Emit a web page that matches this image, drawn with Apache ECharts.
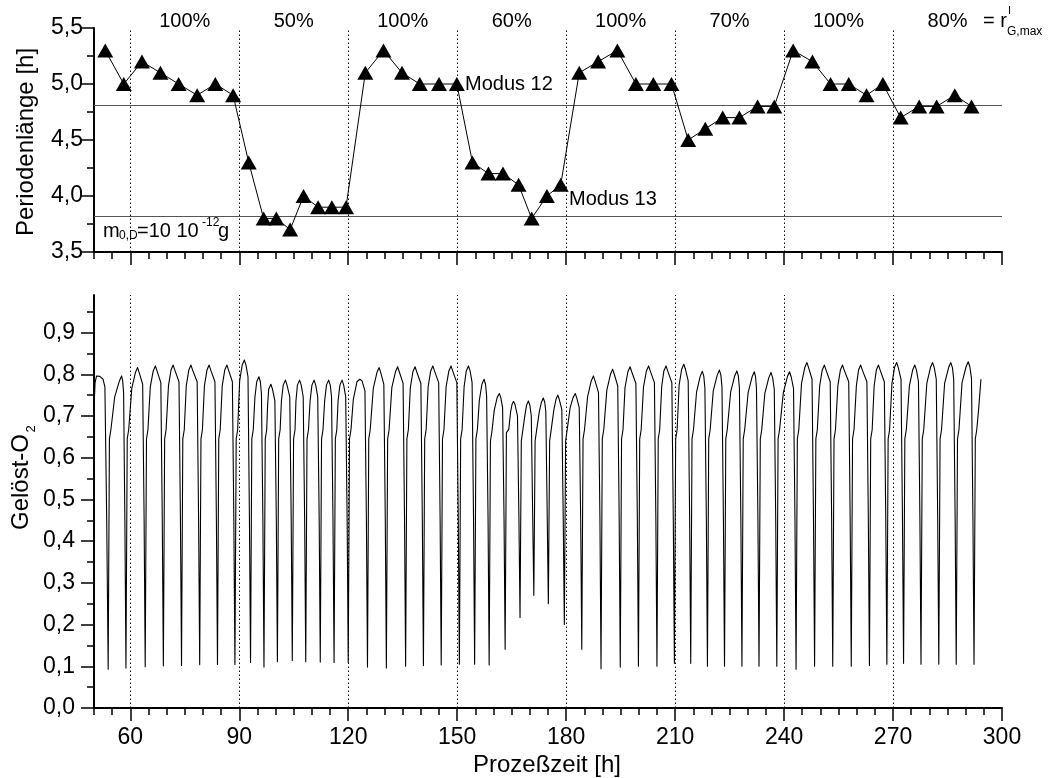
<!DOCTYPE html>
<html><head><meta charset="utf-8">
<script src="https://cdn.jsdelivr.net/npm/echarts@6/dist/echarts.min.js"></script>
<style>html,body{margin:0;padding:0;background:#fff}#c{width:1049px;height:778px}</style>
</head><body><div id="c"></div>
<script>
// ---- data ----
const periodTime = [53.1, 58.2, 63.2, 68.3, 73.3, 78.4, 83.4, 88.3, 92.6, 96.7, 100.2, 104.0, 107.7, 111.7, 115.5, 119.4,
  124.7, 129.7, 134.8, 139.7, 145.0, 149.9, 154.2, 158.6, 162.6, 166.9, 170.5, 174.7, 178.5, 183.6, 188.8, 194.1, 199.2, 204.0, 209.0, 213.6,
  218.3, 223.1, 227.7, 232.7, 237.3, 242.5, 247.8, 252.8, 257.8, 262.7, 267.2, 272.1, 277.2, 282.0, 287.0, 291.6];
const periodLength = [5.3, 5.0, 5.2, 5.1, 5.0, 4.9, 5.0, 4.9, 4.3, 3.8, 3.8, 3.7, 4.0, 3.9, 3.9, 3.9,
  5.1, 5.3, 5.1, 5.0, 5.0, 5.0, 4.3, 4.2, 4.2, 4.1, 3.8, 4.0, 4.1, 5.1, 5.2, 5.3, 5.0, 5.0, 5.0, 4.5,
  4.6, 4.7, 4.7, 4.8, 4.8, 5.3, 5.2, 5.0, 5.0, 4.9, 5.0, 4.7, 4.8, 4.8, 4.9, 4.8];
const o2Points = [
  [50.0,.72],[50.3,.78],[50.7,.796],[51.6,.795],[52.5,.788],[53.0,.77],[53.5,.45],
  [53.9,.093],[54.25,.645],[54.65,.667],[55.7,.746],[57.0,.784],[57.6,.796],[57.9,.784],[58.15,.756],[58.5,.45],
  [58.8,.096],[59.15,.645],[59.55,.667],[60.4,.766],[61.4,.804],[62.0,.816],[62.45,.804],[63.4,.776],[63.8,.45],
  [64.1,.099],[64.45,.645],[64.85,.667],[65.5,.77],[66.3,.808],[66.9,.82],[67.35,.808],[68.4,.78],[68.8,.45],
  [69.1,.101],[69.45,.645],[69.85,.667],[70.5,.772],[71.2,.81],[71.8,.822],[72.25,.81],[73.4,.782],[73.8,.45],
  [74.1,.102],[74.45,.645],[74.85,.667],[75.4,.772],[76.1,.81],[76.7,.822],[77.15,.81],[78.4,.782],[78.8,.45],
  [79.1,.104],[79.45,.645],[79.85,.667],[80.4,.772],[81.1,.81],[81.7,.822],[82.15,.81],[83.3,.782],[83.7,.45],
  [84.0,.104],[84.35,.645],[84.75,.667],[85.3,.772],[86.0,.81],[86.6,.822],[87.05,.81],[88.1,.782],[88.5,.45],
  [88.8,.104],[89.15,.645],[89.55,.667],[90.1,.784],[90.8,.822],[91.4,.834],[91.85,.822],[92.4,.794],[92.8,.45],
  [93.1,.109],[93.45,.645],[93.85,.667],[94.3,.744],[94.8,.782],[95.4,.794],[95.8,.782],[96.1,.754],[96.5,.45],
  [96.8,.098],[97.15,.645],[97.55,.667],[97.8,.726],[98.1,.764],[98.7,.776],[99.15,.764],[99.8,.736],[100.2,.45],
  [100.5,.111],[100.85,.645],[101.25,.667],[101.6,.736],[102.1,.774],[102.7,.786],[103.15,.774],[103.9,.746],[104.3,.45],
  [104.6,.114],[104.95,.645],[105.35,.667],[105.6,.736],[106.0,.774],[106.6,.786],[107.05,.774],[107.6,.746],[108.0,.45],
  [108.3,.111],[108.65,.645],[109.05,.667],[109.5,.736],[110.0,.774],[110.6,.786],[111.05,.774],[111.6,.746],[112.0,.45],
  [112.3,.11],[112.65,.645],[113.05,.667],[113.5,.736],[114.0,.774],[114.6,.786],[115.05,.774],[115.4,.746],[115.8,.45],
  [116.1,.109],[116.45,.645],[116.85,.667],[117.2,.736],[117.7,.774],[118.3,.786],[118.75,.774],[119.3,.746],[119.7,.45],
  [120.0,.109],[120.35,.645],[120.75,.667],[121.4,.74],[122.4,.782],[123.2,.788],[123.8,.784],[124.6,.76],[125.0,.45],
  [125.3,.098],[125.65,.645],[126.05,.667],[126.9,.766],[127.9,.804],[128.5,.816],[128.95,.804],[129.8,.776],[130.2,.45],
  [130.5,.096],[130.85,.645],[131.25,.667],[132.0,.768],[133.0,.806],[133.6,.818],[134.05,.806],[135.1,.778],[135.5,.45],
  [135.8,.10],[136.15,.645],[136.55,.667],[137.1,.768],[137.8,.806],[138.4,.818],[138.85,.806],[140.0,.778],[140.4,.45],
  [140.7,.102],[141.05,.645],[141.45,.667],[142.0,.77],[142.7,.808],[143.3,.82],[143.75,.808],[144.9,.78],[145.3,.45],
  [145.6,.103],[145.95,.645],[146.35,.667],[146.95,.77],[147.7,.808],[148.3,.82],[148.75,.808],[149.9,.78],[150.3,.45],
  [150.6,.105],[150.95,.645],[151.35,.667],[151.9,.77],[152.5,.808],[153.1,.82],[153.55,.808],[154.1,.78],[154.5,.45],
  [154.8,.105],[155.15,.645],[155.55,.667],[156.1,.738],[156.8,.776],[157.4,.788],[157.8,.776],[158.1,.748],[158.5,.45],
  [158.8,.103],[159.15,.64],[159.55,.662],[160.2,.714],[161.0,.744],[161.6,.754],[162.0,.744],[162.5,.72],[162.9,.45],
  [163.2,.141],[163.55,.66],[164.2,.668],[164.7,.71],[165.1,.728],[165.5,.735],[165.9,.728],[166.6,.70],[167.0,.45],
  [167.3,.217],[167.65,.64],[168.05,.665],[168.7,.705],[169.1,.726],[169.6,.736],[170.0,.726],[170.4,.70],[170.8,.45],
  [171.1,.27],[171.45,.64],[171.85,.665],[172.6,.71],[173.2,.733],[173.7,.743],[174.1,.733],[174.4,.71],[174.8,.45],
  [175.1,.25],[175.45,.64],[175.85,.665],[176.6,.714],[177.2,.74],[177.7,.75],[178.1,.74],[178.8,.716],[179.2,.45],
  [179.5,.20],[179.85,.64],[180.25,.665],[181.1,.72],[181.9,.744],[182.5,.754],[182.9,.744],[183.6,.72],[184.0,.45],
  [184.3,.141],[184.65,.645],[185.05,.667],[185.9,.746],[186.9,.784],[187.5,.796],[187.95,.784],[188.9,.756],[189.3,.45],
  [189.6,.094],[189.95,.645],[190.35,.667],[191.2,.762],[192.2,.80],[192.8,.812],[193.25,.80],[194.2,.772],[194.6,.45],
  [194.9,.098],[195.25,.645],[195.65,.667],[196.2,.768],[197.0,.806],[197.6,.818],[198.05,.806],[199.2,.778],[199.6,.45],
  [199.9,.10],[200.25,.645],[200.65,.667],[201.3,.77],[202.1,.808],[202.7,.82],[203.15,.808],[204.3,.78],[204.7,.45],
  [205.0,.10],[205.35,.645],[205.75,.667],[206.3,.77],[206.9,.808],[207.5,.82],[207.95,.808],[209.1,.78],[209.5,.45],
  [209.8,.107],[210.15,.645],[210.55,.667],[211.1,.774],[211.8,.812],[212.4,.824],[212.85,.812],[213.6,.784],[214.0,.45],
  [214.3,.107],[214.65,.645],[215.05,.667],[215.9,.757],[216.9,.795],[217.5,.807],[217.9,.795],[218.2,.767],[218.6,.45],
  [218.9,.10],[219.25,.645],[219.65,.667],[220.5,.76],[221.6,.798],[222.2,.81],[222.6,.798],[222.9,.77],[223.3,.45],
  [223.6,.10],[223.95,.645],[224.35,.667],[225.3,.758],[226.4,.796],[227.0,.808],[227.4,.796],[227.7,.768],[228.1,.45],
  [228.4,.10],[228.75,.645],[229.15,.667],[230.1,.756],[231.2,.794],[231.8,.806],[232.15,.794],[232.4,.766],[232.8,.45],
  [233.1,.10],[233.45,.645],[233.85,.667],[234.7,.754],[235.8,.792],[236.4,.804],[236.85,.792],[237.3,.764],[237.7,.45],
  [238.0,.10],[238.35,.645],[238.75,.667],[239.8,.756],[240.9,.794],[241.5,.806],[241.95,.794],[242.6,.766],[243.0,.45],
  [243.3,.093],[243.65,.645],[244.05,.667],[244.8,.778],[245.7,.816],[246.3,.828],[246.75,.816],[247.7,.788],[248.1,.45],
  [248.4,.10],[248.75,.645],[249.15,.667],[249.8,.772],[250.5,.81],[251.1,.822],[251.55,.81],[252.7,.782],[253.1,.45],
  [253.4,.10],[253.75,.645],[254.15,.667],[254.8,.772],[255.5,.81],[256.1,.822],[256.55,.81],[257.8,.782],[258.2,.45],
  [258.5,.10],[258.85,.645],[259.25,.667],[259.9,.772],[260.5,.81],[261.1,.822],[261.55,.81],[262.8,.782],[263.2,.45],
  [263.5,.102],[263.85,.645],[264.25,.667],[264.8,.772],[265.4,.81],[266.0,.822],[266.45,.81],[267.6,.782],[268.0,.45],
  [268.3,.105],[268.65,.645],[269.05,.667],[269.7,.778],[270.4,.816],[271.0,.828],[271.45,.816],[272.2,.788],[272.6,.45],
  [272.9,.107],[273.25,.645],[273.65,.667],[274.5,.772],[275.4,.81],[276.0,.822],[276.45,.81],[277.0,.782],[277.4,.45],
  [277.7,.105],[278.05,.645],[278.45,.667],[279.3,.778],[280.3,.816],[280.9,.828],[281.35,.816],[281.9,.788],[282.3,.45],
  [282.6,.105],[282.95,.645],[283.35,.667],[284.2,.778],[285.3,.816],[285.9,.828],[286.35,.816],[286.7,.788],[287.1,.45],
  [287.4,.105],[287.75,.645],[288.15,.667],[289.0,.78],[290.1,.818],[290.7,.83],[291.15,.818],[291.6,.79],[292.0,.45],
  [292.3,.105],[292.65,.645],[293.05,.667],[293.6,.72],[294.2,.788]
];
const phaseBounds = [60, 90, 120, 150, 180, 210, 240, 270];
const rateTexts = ['100%', '50%', '100%', '60%', '100%', '70%', '100%', '80%'];
const rateCenters = [75, 105, 135, 165, 195, 225, 255, 285];
const modeLevels = [4.81, 3.82];
const xMajor = [60, 90, 120, 150, 180, 210, 240, 270, 300];
const pMajor = [3.5, 4.0, 4.5, 5.0, 5.5];
const oMajor = [0, 0.1, 0.2, 0.3, 0.4, 0.5, 0.6, 0.7, 0.8, 0.9];

// ---- minor tick positions ----
const xMinor = []; for (let v = 50; v <= 300; v += 5) xMinor.push(v);
const pMinor = []; for (let i = 0; i <= 8; i++) pMinor.push(+(3.5 + i * 0.25).toFixed(2));
const oMinor = []; for (let i = 0; i <= 19; i++) oMinor.push(+(i * 0.05).toFixed(2));

const FONT = 'Liberation Sans';
const comma = v => (Math.round(v * 10) / 10).toFixed(1).replace('.', ',');

function xAxisPair(grid, withLabels) {
  return [
    { gridIndex: grid, type: 'value', position: 'bottom', min: 50, max: 300,
      axisLine: { show: true, onZero: false, lineStyle: { color: '#000', width: 2 } },
      axisTick: { show: true, customValues: xMinor, length: 7, lineStyle: { color: '#000', width: 1.5 } },
      axisLabel: { show: false }, splitLine: { show: false } },
    { gridIndex: grid, type: 'value', position: 'bottom', min: 50, max: 300,
      axisLine: { show: false, onZero: false },
      axisTick: { show: true, customValues: xMajor, length: 13, lineStyle: { color: '#000', width: 1.5 } },
      axisLabel: withLabels ? { show: true, customValues: xMajor, color: '#000', fontFamily: FONT, fontSize: 23, margin: 18 } : { show: false },
      splitLine: { show: false } }
  ];
}
function yAxisPair(grid, min, max, minor, major, margin) {
  return [
    { gridIndex: grid, type: 'value', position: 'left', min: min, max: max,
      axisLine: { show: true, onZero: false, lineStyle: { color: '#000', width: 2 } },
      axisTick: { show: true, customValues: minor, length: 7, lineStyle: { color: '#000', width: 1.5 } },
      axisLabel: { show: false }, splitLine: { show: false } },
    { gridIndex: grid, type: 'value', position: 'left', min: min, max: max,
      axisLine: { show: false, onZero: false },
      axisTick: { show: true, customValues: major, length: 13, lineStyle: { color: '#000', width: 1.5 } },
      axisLabel: { show: true, customValues: major, formatter: comma, color: '#000', fontFamily: FONT, fontSize: 23, margin: margin },
      splitLine: { show: false } }
  ];
}

const chart = echarts.init(document.getElementById('c'), null, { renderer: 'canvas' });
const option = {
  animation: false,
  backgroundColor: '#fff',
  textStyle: { fontFamily: FONT },
  grid: [
    { left: 94, right: 47, top: 28, height: 224, outerBoundsMode: 'none' },
    { left: 94, right: 47, top: 295, height: 413, outerBoundsMode: 'none' }
  ],
  xAxis: [].concat(xAxisPair(0, false), xAxisPair(1, true)),
  yAxis: [].concat(yAxisPair(0, 3.5, 5.5, pMinor, pMajor, 11), yAxisPair(1, 0, 0.99, oMinor, oMajor, 19)),
  series: [
    { type: 'line', xAxisIndex: 0, yAxisIndex: 0, z: 5,
      data: periodTime.map((t, i) => [t, periodLength[i]]),
      symbol: 'triangle', symbolSize: [16, 14], showSymbol: true,
      itemStyle: { color: '#000' }, lineStyle: { color: '#000', width: 1 },
      markLine: { silent: true, symbol: ['none', 'none'], label: { show: false }, animation: false,
        data: phaseBounds.map(v => ({ xAxis: v, lineStyle: { type: [1.5, 2.5], color: '#000', width: 1 } }))
          .concat(modeLevels.map(v => ({ yAxis: v, lineStyle: { type: 'solid', color: '#555', width: 1.2 } }))) } },
    { type: 'line', xAxisIndex: 2, yAxisIndex: 2, z: 4,
      data: o2Points, symbol: 'none', showSymbol: false, sampling: false,
      lineStyle: { color: '#000', width: 1.1, join: 'round' },
      markLine: { silent: true, symbol: ['none', 'none'], label: { show: false }, animation: false,
        data: phaseBounds.map(v => ({ xAxis: v, lineStyle: { type: [1.5, 2.5], color: '#000', width: 1 } })) } }
  ]
};
chart.setOption(option);

const F = s => s + 'px "' + FONT + '", Arial, sans-serif';
function txt(x, y, text, size, align, extra) {
  return Object.assign({ type: 'text', x: x, y: y, silent: true, z: 100,
    style: { text: text, font: F(size), fill: '#000', align: align || 'left', verticalAlign: 'middle' } }, extra || {});
}
const g = [];
rateTexts.forEach((t, i) => {
  const px = chart.convertToPixel({ xAxisIndex: 0 }, rateCenters[i]);
  g.push(txt(px, 21, t, 20, 'center'));
});
g.push(txt(983, 21, '= r', 20, 'left'));
g.push(txt(1008, 11, 'I', 11, 'left'));
g.push(txt(1007, 32, 'G,max', 12, 'left'));
g.push(txt(465, 84, 'Modus 12', 20, 'left'));
g.push(txt(569, 199, 'Modus 13', 20, 'left'));
g.push(txt(103, 231, 'm', 20, 'left'));
g.push(txt(119, 236, '0,D', 12, 'left'));
g.push(txt(137, 231, '=10 10', 20, 'left'));
g.push(txt(202, 223, '-12', 12, 'left'));
g.push(txt(218, 231, 'g', 20, 'left'));
g.push(txt(26, 142, 'Periodenlänge [h]', 24, 'center', { rotation: Math.PI / 2 }));
g.push(txt(21, 482, 'Gelöst-O', 24, 'center', { rotation: Math.PI / 2 }));
g.push(txt(31, 429, '2', 13, 'center', { rotation: Math.PI / 2 }));
g.push(txt(547, 765, 'Prozeßzeit [h]', 24, 'center'));
chart.setOption({ graphic: g });
</script></body></html>
